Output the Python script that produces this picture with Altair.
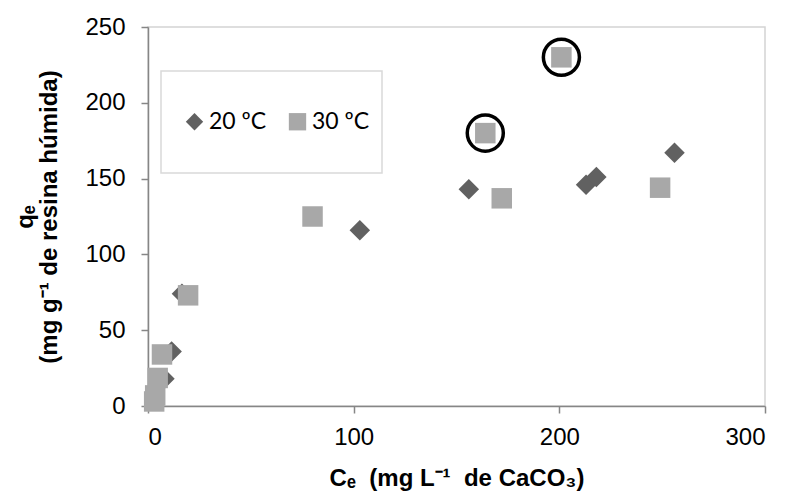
import altair as alt
import pandas as pd

# 20 ºC series (diamonds)
ce_20 = [3, 8, 11.5, 16.5, 103, 156, 213, 218, 256]
qe_20 = [5, 18, 36, 74, 116, 143, 146, 151, 167]
# 30 ºC series (squares)
ce_30 = [3, 3.5, 4.7, 6.8, 19.5, 80, 164, 172, 201, 249]
qe_30 = [3, 7, 18.5, 34, 73, 125, 180, 137, 230, 144]
circled_30 = [False, False, False, False, False, False, True, False, True, False]

series_names = ["20 ºC", "30 ºC"]
series_colors = ["#616161", "#a8a8a8"]
series_shapes = ["diamond", "square"]

rows = []
for x, y in zip(ce_20, qe_20):
    rows.append({"Ce": x, "qe": y, "serie": series_names[0], "circled": False})
for x, y, c in zip(ce_30, qe_30, circled_30):
    rows.append({"Ce": x, "qe": y, "serie": series_names[1], "circled": c})
df = pd.DataFrame(rows)

FONT = "Liberation Sans"

x_enc = alt.X("Ce:Q", scale=alt.Scale(domain=[0, 300], nice=False),
              axis=alt.Axis(values=[0, 100, 200, 300],
                            title="C\u2091\u00a0\u00a0(mg L\u207b\u00b9\u00a0\u00a0de CaCO\u2083)"))
y_enc = alt.Y("qe:Q", scale=alt.Scale(domain=[0, 250], nice=False),
              axis=alt.Axis(values=[0, 50, 100, 150, 200, 250],
                            title=["q\u2091", "(mg g\u207b\u00b9 de resina húmida)"]))

frame = alt.Chart(pd.DataFrame({"k": [0]})).mark_rect(
    fillOpacity=0, stroke="#d9d9d9", strokeWidth=1.5
).encode(x=alt.value(13), x2=alt.value(234), y=alt.value(44), y2=alt.value(146))

points = alt.Chart(df).mark_point(filled=True, size=420, opacity=1, strokeWidth=0).encode(
    x=x_enc,
    y=y_enc,
    color=alt.Color("serie:N", scale=alt.Scale(domain=series_names, range=series_colors),
                    legend=alt.Legend(orient="none", legendX=35, legendY=83,
                                      direction="horizontal", title=None,
                                      labelFont="Lato", labelFontSize=23,
                                      labelColor="black", symbolSize=300,
                                      symbolOpacity=1, symbolStrokeWidth=0,
                                      columnPadding=19, labelOffset=3)),
    shape=alt.Shape("serie:N", scale=alt.Scale(domain=series_names, range=series_shapes)),
)

circles = alt.Chart(df).transform_filter("datum.circled").mark_point(
    shape="circle", size=1300, filled=False, stroke="black", strokeWidth=3.5, opacity=1
).encode(x="Ce:Q", y="qe:Q")

chart = alt.layer(frame, points, circles).properties(
    width=617, height=379,
    autosize=alt.AutoSizeParams(type="none"),
    padding={"left": 148, "top": 27, "right": 22, "bottom": 85},
).configure_view(
    stroke="#d4d4d4", strokeWidth=1.5
).configure_axis(
    grid=False, domainColor="#868686", domainWidth=1.5, tickColor="#868686",
    tickWidth=1.5, tickSize=7, labelFont=FONT, labelFontSize=24, labelColor="black",
    titleFont=FONT, titleFontSize=24, titleFontWeight="bold", titleColor="black",
).configure_axisX(
    labelPadding=12, titlePadding=17,
).configure_axisY(
    labelPadding=16, titlePadding=23, titleLineHeight=24,
)

chart.save("out.html", embed_options={"renderer": "svg", "actions": False})
